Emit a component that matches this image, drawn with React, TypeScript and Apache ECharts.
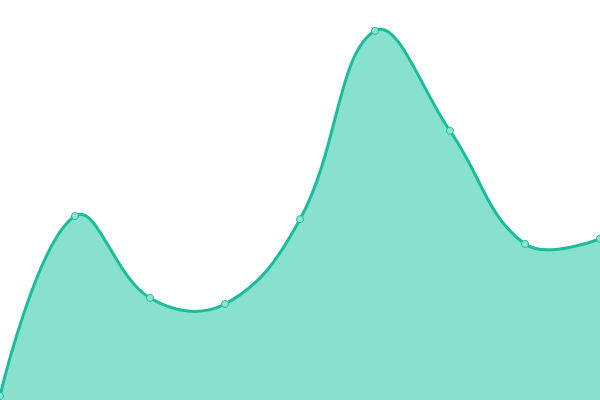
import * as echarts from "echarts";
import { useEffect, useRef } from "react";

const categories = ["1", "2", "3", "4", "5", "6", "7", "8", "9"];
const values = [1, 46, 25.5, 24, 45.2, 92.3, 67.3, 39, 40.3];
const yMin = 0;
const yMax = 100;

const lineColor = "#1abc9c";
const areaColor = "#88e0cf";
const tension = 0.4;

// cubic bezier through points, same control-point rule as a cardinal-ish spline
function splinePath(pts: number[][]) {
  const cps: number[][] = [];
  const n = pts.length;
  for (let i = 0; i < n; i++) {
    if (i === 0 || i === n - 1) {
      cps.push(pts[i]);
      continue;
    }
    const p = pts[i];
    const prev = pts[i - 1];
    const next = pts[i + 1];
    const vx = (next[0] - prev[0]) * tension;
    const vy = (next[1] - prev[1]) * tension;
    let d0 = Math.hypot(p[0] - prev[0], p[1] - prev[1]);
    let d1 = Math.hypot(next[0] - p[0], next[1] - p[1]);
    const sum = d0 + d1;
    if (sum) {
      d0 /= sum;
      d1 /= sum;
    }
    cps.push([p[0] - vx * d0, p[1] - vy * d0]);
    cps.push([p[0] + vx * d1, p[1] + vy * d1]);
  }
  let d = `M${pts[0][0]},${pts[0][1]}`;
  for (let i = 0; i < n - 1; i++) {
    const a = cps[i * 2];
    const b = cps[i * 2 + 1];
    const p = pts[i + 1];
    d += ` C${a[0]},${a[1]} ${b[0]},${b[1]} ${p[0]},${p[1]}`;
  }
  return d;
}

const App = () => {
  const chartRef = useRef<HTMLDivElement>(null);

  useEffect(() => {
    const chart = echarts.init(chartRef.current, null, { renderer: "svg" });
    chart.setOption({
      animation: false,
      grid: { top: 0, left: 0, right: 0, bottom: 0 },
      xAxis: {
        type: "category",
        data: categories,
        boundaryGap: false,
        show: false,
      },
      yAxis: {
        type: "value",
        min: yMin,
        max: yMax,
        show: false,
      },
      series: [
        {
          type: "custom",
          data: values.map((v, i) => [i, v]),
          z: 1,
          silent: true,
          renderItem: (params: any, api: any) => {
            if (params.dataIndex !== 0) return null;
            const pts = values.map((v, i) => api.coord([i, v]));
            const base = api.coord([0, yMin])[1];
            const curve = splinePath(pts);
            const first = pts[0];
            const last = pts[pts.length - 1];
            return {
              type: "group",
              children: [
                {
                  type: "path",
                  shape: {
                    pathData: `${curve} L${last[0]},${base} L${first[0]},${base} Z`,
                  },
                  style: { fill: areaColor },
                },
                {
                  type: "path",
                  shape: { pathData: curve },
                  style: { stroke: lineColor, lineWidth: 3, fill: "none" },
                },
              ],
            };
          },
        },
        {
          // point markers
          type: "line",
          data: values,
          z: 3,
          symbol: "circle",
          symbolSize: 7,
          lineStyle: { opacity: 0 },
          itemStyle: {
            color: "#8ee3d1",
            borderColor: lineColor,
            borderWidth: 1,
          },
        },
      ],
    });
    return () => {
      chart.dispose();
    };
  }, []);

  return (
    <div
      ref={chartRef}
      style={{ position: "absolute", top: 0, left: 0, width: "600px", height: "400px" }}
    ></div>
  );
};

export default App;
